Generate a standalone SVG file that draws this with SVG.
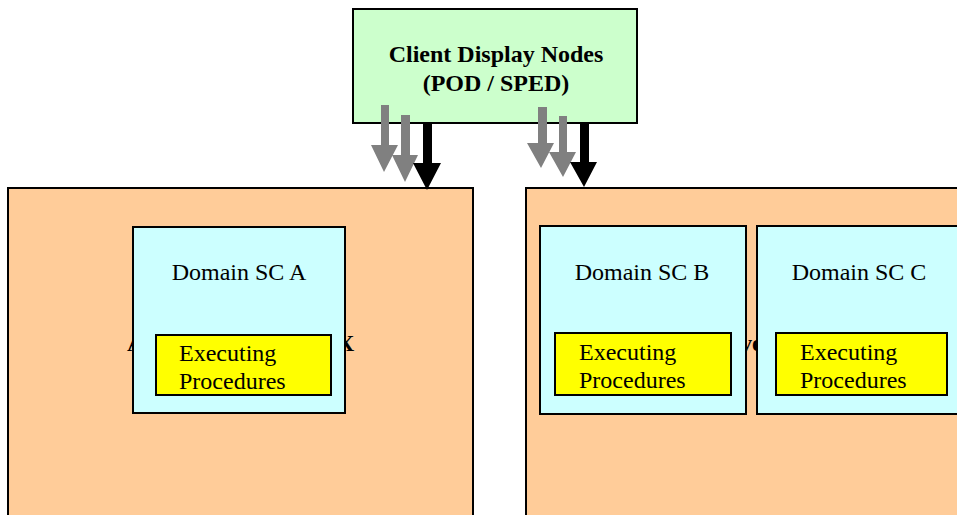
<svg xmlns="http://www.w3.org/2000/svg" width="957" height="515" viewBox="0 0 957 515">
<style>
  .box { stroke: #000; stroke-width: 2; }
  .outer { fill: #ffcc99; }
  .domain { fill: #ccffff; }
  .exec { fill: #ffff00; }
  .client { fill: #ccffcc; }
  .t { font-family: "Liberation Serif", "Times New Roman", serif; font-size: 24px; fill: #000; }
  .b { font-weight: bold; }
  .gray { fill: #808080; }
  .black { fill: #000; }
</style>
<rect width="957" height="515" fill="#fff"/>
<g id="area-left">
  <rect class="box outer" x="8" y="188" width="465" height="340"/>
  <text class="t b" x="127" y="351">A</text>
  <text class="t b" x="337" y="351">X</text>
</g>
<g id="area-right">
  <rect class="box outer" x="526" y="188" width="440" height="340"/>
  <text class="t b" x="740" y="351">ve</text>
</g>
<g id="domain-a">
  <rect class="box domain" x="133" y="227" width="212" height="186"/>
  <text class="t" x="239" y="280" text-anchor="middle">Domain SC A</text>
</g>
<g id="exec-a">
  <rect class="box exec" x="156" y="335" width="175" height="60"/>
  <text class="t" x="179" y="361">Executing</text>
  <text class="t" x="179" y="389">Procedures</text>
</g>
<g id="domain-b">
  <rect class="box domain" x="540" y="226" width="206" height="188"/>
  <text class="t" x="642" y="280" text-anchor="middle">Domain SC B</text>
</g>
<g id="exec-b">
  <rect class="box exec" x="555" y="333" width="176" height="62"/>
  <text class="t" x="579" y="360">Executing</text>
  <text class="t" x="579" y="388">Procedures</text>
</g>
<g id="domain-c">
  <rect class="box domain" x="757" y="226" width="220" height="188"/>
  <text class="t" x="859" y="280" text-anchor="middle">Domain SC C</text>
</g>
<g id="exec-c">
  <rect class="box exec" x="776" y="333" width="171" height="62"/>
  <text class="t" x="800" y="360">Executing</text>
  <text class="t" x="800" y="388">Procedures</text>
</g>
<g id="client">
  <rect class="box client" x="353" y="9" width="284" height="114"/>
  <text class="t b" x="496" y="62" text-anchor="middle">Client Display Nodes</text>
  <text class="t b" x="496" y="91" text-anchor="middle">(POD / SPED)</text>
</g>
<g id="connectors">
  <polygon class="gray" points="381,105 389,105 389,145 398,145 384,172 371,145 381,145"/>
  <polygon class="gray" points="401,115 410,115 410,155 418,155 405,182 392,155 401,155"/>
  <polygon class="black" points="423,123 432,123 432,163 441,163 427,190 413,163 423,163"/>
  <polygon class="gray" points="538,107 547,107 547,143 554,143 541,168 527,143 538,143"/>
  <polygon class="gray" points="559,116 567,116 567,152 576,152 563,177 549,152 559,152"/>
  <polygon class="black" points="580,123 589,123 589,162 597,162 584,187 570,162 580,162"/>
</g>
</svg>
